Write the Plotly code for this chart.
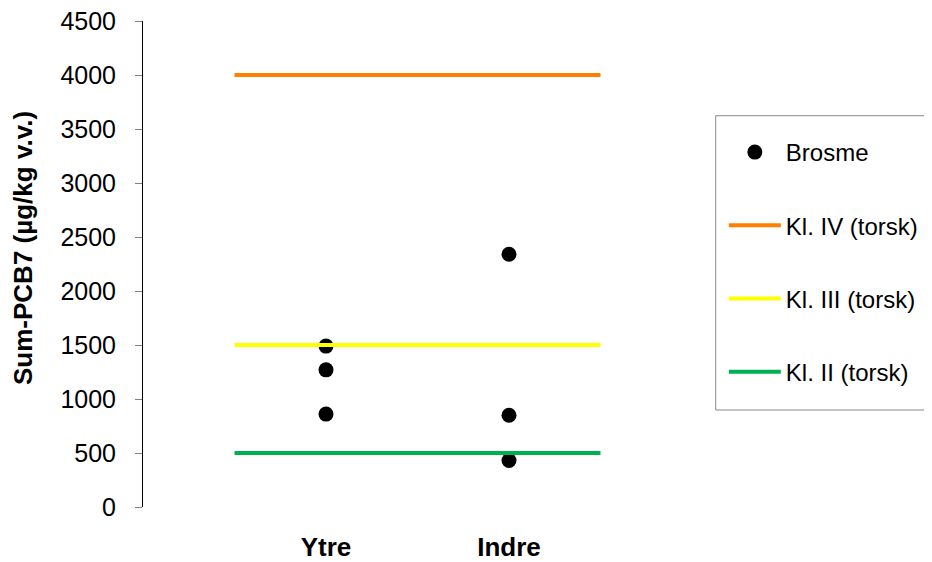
import plotly.graph_objects as go

categories = ["Ytre", "Indre"]
cat_pos = [1, 2]
brosme_x_cat = ["Ytre", "Ytre", "Ytre", "Indre", "Indre", "Indre"]
brosme_values = [1490, 1270, 860, 2340, 850, 430]
class_names = ["Kl. IV (torsk)", "Kl. III (torsk)", "Kl. II (torsk)"]
class_limits = [4000, 1500, 500]
class_colors = ["#FF8000", "#FFFF00", "#00B050"]
line_span = [0.5, 2.5]
y_ticks = [0, 500, 1000, 1500, 2000, 2500, 3000, 3500, 4000, 4500]
y_title = "Sum-PCB7 (µg/kg v.v.)"

pos = dict(zip(categories, cat_pos))
font = "Liberation Sans, Arial, sans-serif"

fig = go.Figure()
fig.add_trace(go.Scatter(
    x=[pos[c] for c in brosme_x_cat], y=brosme_values, mode="markers",
    name="Brosme", legendgroup="a",
    marker=dict(color="black", size=15, line=dict(width=0)),
))
for i, (nm, lim, col) in enumerate(zip(class_names, class_limits, class_colors)):
    fig.add_trace(go.Scatter(
        x=line_span, y=[lim, lim], mode="lines", name=nm, legendgroup=str(i),
        line=dict(color=col, width=4),
    ))

fig.update_layout(
    width=924, height=554,
    margin=dict(l=135, r=240, t=13, b=55, autoexpand=False),
    plot_bgcolor="white", paper_bgcolor="white",
    font=dict(family=font, color="black", size=24),
    showlegend=True,
    legend=dict(
        x=1.058, y=0.7757, xanchor="left", yanchor="top",
        borderwidth=0, bgcolor="rgba(0,0,0,0)",
        font=dict(size=24), traceorder="grouped", tracegroupgap=39,
        itemwidth=52,
    ),
    xaxis=dict(
        range=[0, 3], tickmode="array", tickvals=cat_pos, ticktext=categories,
        showline=False, showgrid=False, zeroline=False, ticks="",
        tickfont=dict(size=26, family=font, weight="bold"),
        ticklabelstandoff=22, automargin=False, ticklabeloverflow="allow",
    ),
    yaxis=dict(
        range=[0, 4500], tickvals=y_ticks, showgrid=False, zeroline=False,
        showline=True, linecolor="black", linewidth=1,
        ticks="outside", ticklen=7, tickcolor="#808080",
        tickfont=dict(size=25, family=font),
        ticklabelstandoff=14, automargin=False, ticklabeloverflow="allow",
    ),
    shapes=[dict(
        type="rect", xref="paper", yref="paper",
        x0=1.0432, x1=1.4317, y0=0.1996, y1=0.8051,
        line=dict(color="#888888", width=1), fillcolor="rgba(0,0,0,0)",
        layer="below",
    )],
    annotations=[dict(
        text=y_title, textangle=-90, xref="paper", yref="paper",
        x=-0.2186, y=0.5329, xanchor="center", yanchor="middle",
        showarrow=False, font=dict(size=26, family=font, weight="bold"),
    )],
)
fig.write_html("out.html")
